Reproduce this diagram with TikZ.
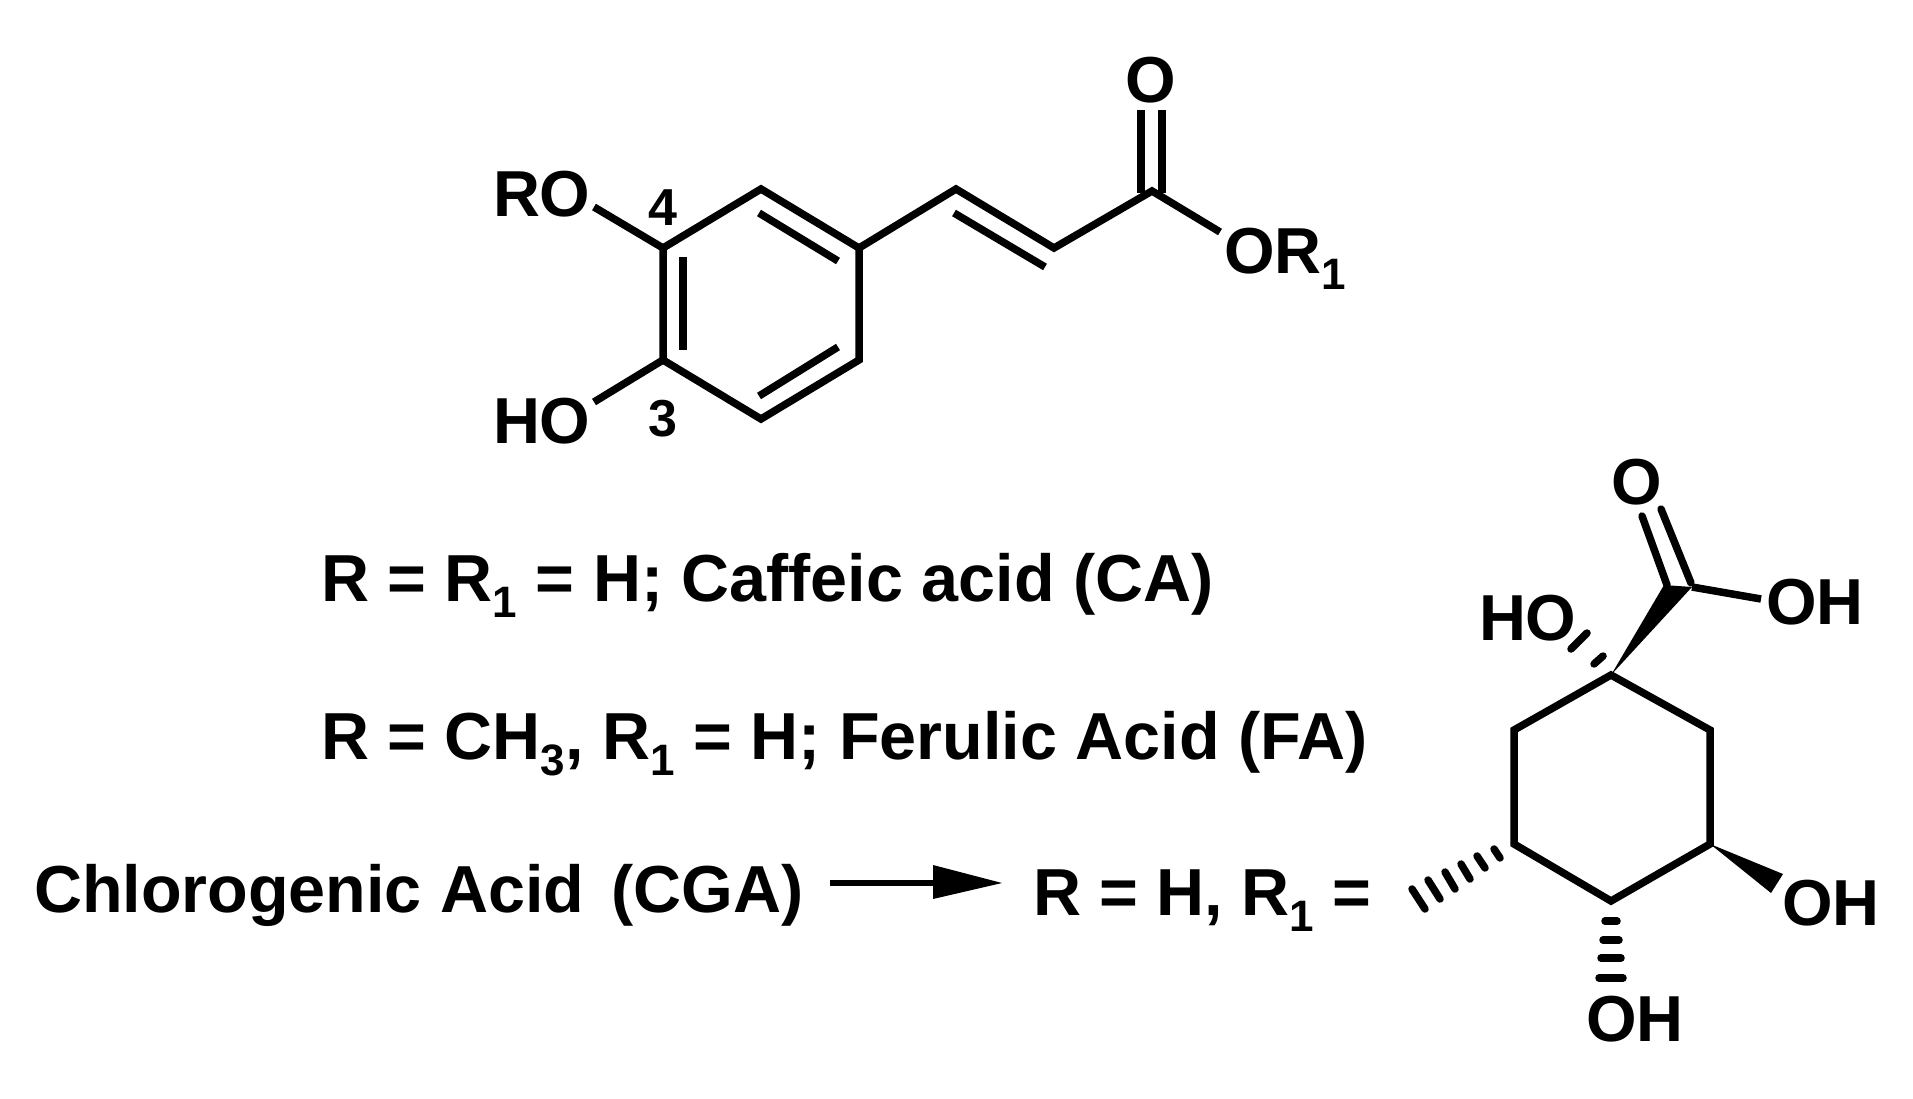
\documentclass[tikz,border=0pt]{standalone}
\usepackage{fontspec}
\setmainfont{Liberation Sans}
\newcommand{\subnum}[1]{\raisebox{-16pt}{\fontsize{44}{44}\selectfont #1}}
\tikzset{
  bond/.style={line width=7.5pt,line cap=butt,line join=miter,black},
  hash/.style={line width=7.5pt,line cap=round,black},
  lab/.style={anchor=base west,inner sep=0pt,outer sep=0pt,font=\fontsize{65}{65}\selectfont\bfseries},
  txt/.style={anchor=base west,inner sep=0pt,outer sep=0pt,font=\fontsize{66.5}{66.5}\selectfont\bfseries},
  num/.style={anchor=center,inner sep=0pt,outer sep=0pt,font=\fontsize{52}{52}\selectfont\bfseries},
  rxn/.style={line width=5.5pt,black}
}
\begin{document}
\begin{tikzpicture}[x=1pt,y=-1pt]
\useasboundingbox (0,0) rectangle (1913,1099);
% caffeic skeleton atoms
\coordinate (a1) at (761,189);
\coordinate (a2) at (859,248);
\coordinate (a3) at (859,360);
\coordinate (a4) at (761,419);
\coordinate (a5) at (663,360);
\coordinate (a6) at (663,248);
\coordinate (c1) at (956,189);
\coordinate (c2) at (1054,248);
\coordinate (c3) at (1152,191);
\coordinate (c3a) at (1141,193);
\coordinate (c3b) at (1162,193);
\coordinate (o1a) at (1141,110);
\coordinate (o1b) at (1162,110);
\coordinate (endOR) at (1220,232);
\coordinate (endRO) at (594,207);
\coordinate (endHO) at (594,402);
\coordinate (i1a) at (759,213);
\coordinate (i1b) at (838,261);
\coordinate (i2a) at (683,257);
\coordinate (i2b) at (683,350);
\coordinate (i3a) at (838,347);
\coordinate (i3b) at (759,396);
\coordinate (i4a) at (954,213);
\coordinate (i4b) at (1045,267);
\draw[bond] (a1) -- (a2) -- (a3) -- (a4) -- (a5) -- (a6) -- cycle;
\draw[bond] (a2) -- (c1) -- (c2) -- (c3) -- (endOR);
\draw[bond] (a6) -- (endRO);
\draw[bond] (a5) -- (endHO);
\draw[bond] (c3a) -- (o1a);
\draw[bond] (c3b) -- (o1b);
\draw[bond] (i1a) -- (i1b);
\draw[bond] (i2a) -- (i2b);
\draw[bond] (i3a) -- (i3b);
\draw[bond] (i4a) -- (i4b);
\node[lab] (ro) at (493,217) {RO};
\node[lab] (ho) at (493,443) {HO};
\node[lab] (o1) at (1125,103) {O};
\node[lab] (or1) at (1224,273) {OR\subnum{1}};
\node[num] (n4) at (663,208) {4};
\node[num] (n3) at (663,419) {3};
% text lines
\node[txt] (t1) at (321,601) {R = R\subnum{1} = H; Caffeic acid (CA)};
\node[txt] (t2) at (321,759) {R = CH\subnum{3}, R\subnum{1} = H; Ferulic Acid (FA)};
\node[txt] (t3) at (34,912) {Chlorogenic Acid\hspace{27pt}(CGA)};
\node[txt] (t4) at (1033,915) {R = H, R\subnum{1} =};
\coordinate (arrS) at (830,883);
\coordinate (arrE) at (1002,883);
\coordinate (arrN) at (933,865);
\coordinate (arrW) at (933,899);
\coordinate (arrM) at (933,883);
\draw[rxn] (arrS) -- (arrM);
\fill[black] (arrE) -- (arrN) -- (arrW) -- cycle;
% quinic ring atoms
\coordinate (q1) at (1611,675);
\coordinate (q2) at (1710,730);
\coordinate (q3) at (1710,844);
\coordinate (q4) at (1611,901);
\coordinate (q5) at (1514,844);
\coordinate (q6) at (1514,730);
\draw[bond] (q1) -- (q2) -- (q3) -- (q4) -- (q5) -- (q6) -- cycle;
% COOH
\coordinate (cw1) at (1664,585);
\coordinate (cw2) at (1692,587);
\fill[black] (q1) -- (cw1) -- (cw2) -- cycle;
\coordinate (ohe) at (1761,599);
\coordinate (oda) at (1691,583);
\coordinate (odb) at (1661,509);
\coordinate (oca) at (1667,585);
\coordinate (ocb) at (1642,516);
\draw[bond] (cw2) -- (ohe);
\draw[bond,line cap=round] (oda) -- (odb);
\draw[bond,line cap=round] (oca) -- (ocb);
\node[lab] (qo) at (1611,504) {O};
\node[lab] (qoh1) at (1766,624) {OH};
\node[lab] (qho) at (1479,640) {HO};
\node[lab] (qoh2) at (1782,925) {OH};
\node[lab] (qoh3) at (1586,1041) {OH};
% hashed to HO
\coordinate (h1a) at (1594,664);
\coordinate (h1b) at (1603,656);
\coordinate (h2a) at (1571,649);
\coordinate (h2b) at (1587,633);
\draw[hash] (h1a) -- (h1b);
\draw[hash] (h2a) -- (h2b);
% wedge to OH
\coordinate (w1) at (1783,874);
\coordinate (w2) at (1771,893);
\fill[black] (q3) -- (w1) -- (w2) -- cycle;
% hashed down
\foreach \y/\h [count=\i] in {921/6,940/8,958/10,978/12}{
  \coordinate (da\i) at (1611-\h,\y);
  \coordinate (db\i) at (1611+\h,\y);
  \draw[hash] (da\i) -- (db\i);
}
% hashed left
\coordinate (l1a) at (1494,849); \coordinate (l1b) at (1500,858);
\coordinate (l2a) at (1477,856); \coordinate (l2b) at (1485,868);
\coordinate (l3a) at (1461,864); \coordinate (l3b) at (1470,879);
\coordinate (l4a) at (1445,872); \coordinate (l4b) at (1455,889);
\coordinate (l5a) at (1428,880); \coordinate (l5b) at (1440,899);
\coordinate (l6a) at (1412,889); \coordinate (l6b) at (1425,909);
\foreach \i in {1,...,6}{\draw[hash] (l\i a) -- (l\i b);}
\end{tikzpicture}
\end{document}
